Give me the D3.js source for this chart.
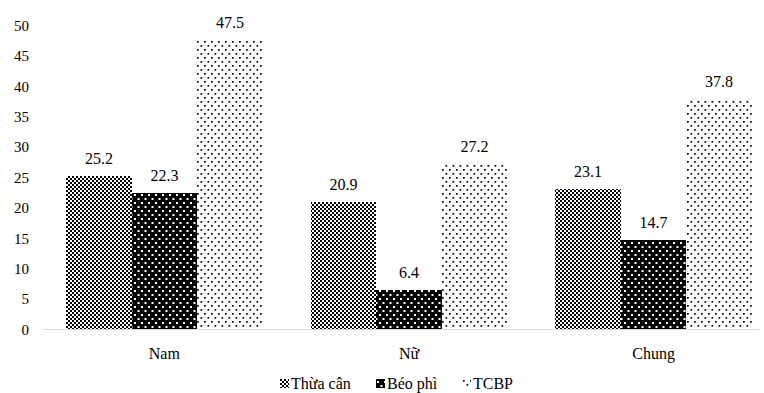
<!DOCTYPE html>
<html><head><meta charset="utf-8">
<script src="https://cdn.jsdelivr.net/npm/d3@7"></script>
<style>body{margin:0;background:#fff}svg{display:block}</style>
</head><body>
<svg id="c" width="764" height="393" font-family="Liberation Serif"></svg>
<script>
const categories = ["Nam", "Nữ", "Chung"];
const series = ["Thừa cân", "Béo phì", "TCBP"];
const thuaCan = [25.2, 20.9, 23.1];
const beoPhi = [22.3, 6.4, 14.7];
const tcbp = [47.5, 27.2, 37.8];
const yTicks = [0, 5, 10, 15, 20, 25, 30, 35, 40, 45, 50];
const values = [thuaCan, beoPhi, tcbp];
const FONT = "Liberation Serif";

const svg = d3.select("#c");
const defs = svg.append("defs");
// checkerboard
const p1 = defs.append("pattern").attr("id","p0").attr("patternUnits","userSpaceOnUse").attr("width",4).attr("height",4);
p1.append("rect").attr("width",4).attr("height",4).attr("fill","#fff");
p1.append("rect").attr("x",0).attr("y",0).attr("width",2).attr("height",2).attr("fill","#000");
p1.append("rect").attr("x",2).attr("y",2).attr("width",2).attr("height",2).attr("fill","#000");
// black with white dots
const p2 = defs.append("pattern").attr("id","p1").attr("patternUnits","userSpaceOnUse").attr("width",7).attr("height",8);
p2.append("rect").attr("width",7).attr("height",8).attr("fill","#000");
p2.append("rect").attr("x",1).attr("y",2).attr("width",2).attr("height",2).attr("fill","#fff");
p2.append("rect").attr("x",4.5).attr("y",6).attr("width",2).attr("height",2).attr("fill","#fff");
// white with black dots
const p3 = defs.append("pattern").attr("id","p2").attr("patternUnits","userSpaceOnUse").attr("width",7).attr("height",8);
p3.append("rect").attr("width",7).attr("height",8).attr("fill","#fff");
p3.append("rect").attr("x",1).attr("y",1).attr("width",1.7).attr("height",1.7).attr("fill","#000");
p3.append("rect").attr("x",4.5).attr("y",5).attr("width",1.7).attr("height",1.7).attr("fill","#000");

const x0 = d3.scaleBand().domain(categories).range([66, 752]).paddingInner(0.196).paddingOuter(0);
const x1 = d3.scaleBand().domain(series).range([0, x0.bandwidth()]);
const y = d3.scaleLinear().domain([0, 50]).range([329, 25]);

// baseline
svg.append("line").attr("x1",43).attr("x2",759).attr("y1",y(0)+0.5).attr("y2",y(0)+0.5).attr("stroke","#d9d9d9").attr("stroke-width",1);

// y axis labels
const yAxis = d3.axisLeft(y).tickValues(yTicks).tickSize(0).tickPadding(0);
const ya = svg.append("g").attr("transform","translate(29,0)").call(yAxis);
ya.attr("font-family", FONT).attr("font-size", 15);
ya.select(".domain").remove();
ya.selectAll("text").attr("font-family", FONT).attr("font-size",15).attr("fill","#000").attr("dy","0.35em");

const g = svg.append("g");
categories.forEach((c, ci) => {
  series.forEach((s, si) => {
    const v = values[si][ci];
    const xx = Math.round(x0(c) + x1(s));
    const w = Math.round(x0(c) + x1(s) + x1.bandwidth()) - xx;
    g.append("rect").attr("x", xx).attr("y", Math.round(y(v))).attr("width", w)
      .attr("height", Math.round(y(0)) - Math.round(y(v))).attr("fill", `url(#p${si})`)
      .attr("shape-rendering","crispEdges");
    g.append("text").attr("x", xx + w/2).attr("y", y(v) - 12).attr("text-anchor","middle")
      .attr("font-family", FONT).attr("font-size",16).text(v.toFixed(1));
  });
  svg.append("text").attr("x", x0(c) + x0.bandwidth()/2).attr("y", 359).attr("text-anchor","middle")
    .attr("font-family", FONT).attr("font-size",16).text(c);
});

// legend
const legendX = [280, 376, 462];
series.forEach((s, si) => {
  const lg = svg.append("g").attr("transform", `translate(${legendX[si]},379)`);
  lg.append("rect").attr("x",0).attr("y",0).attr("width",9).attr("height",9).attr("fill",`url(#p${si})`).attr("shape-rendering","crispEdges");
  lg.append("text").attr("x",11).attr("y",10).attr("font-family", FONT).attr("font-size",16).text(s);
});
</script>
</body></html>
